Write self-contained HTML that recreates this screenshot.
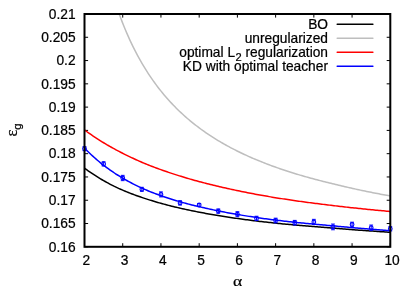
<!DOCTYPE html>
<html><head><meta charset="utf-8"><title>chart</title><style>html,body{margin:0;padding:0;background:#fff;overflow:hidden}svg{will-change:transform}text{stroke:#000;stroke-width:0.22px}</style></head><body>
<svg width="415" height="291" viewBox="0 0 415 291" style="display:block;font-family:'Liberation Sans',sans-serif">
<rect width="415" height="291" fill="#fff"/>
<defs><clipPath id="c"><rect x="84.5" y="14.0" width="305.8" height="232.8"/></clipPath></defs>
<path d="M84.5,246.80h3.6 M390.3,246.80h-3.6 M84.5,223.52h3.6 M390.3,223.52h-3.6 M84.5,200.24h3.6 M390.3,200.24h-3.6 M84.5,176.96h3.6 M390.3,176.96h-3.6 M84.5,153.68h3.6 M390.3,153.68h-3.6 M84.5,130.40h3.6 M390.3,130.40h-3.6 M84.5,107.12h3.6 M390.3,107.12h-3.6 M84.5,83.84h3.6 M390.3,83.84h-3.6 M84.5,60.56h3.6 M390.3,60.56h-3.6 M84.5,37.28h3.6 M390.3,37.28h-3.6 M84.5,14.00h3.6 M390.3,14.00h-3.6 M84.50,246.8v-3.6 M84.50,14.0v3.6 M122.72,246.8v-3.6 M122.72,14.0v3.6 M160.95,246.8v-3.6 M160.95,14.0v3.6 M199.18,246.8v-3.6 M199.18,14.0v3.6 M237.40,246.8v-3.6 M237.40,14.0v3.6 M275.62,246.8v-3.6 M275.62,14.0v3.6 M313.85,246.8v-3.6 M313.85,14.0v3.6 M352.07,246.8v-3.6 M352.07,14.0v3.6 M390.30,246.8v-3.6 M390.30,14.0v3.6" stroke="#000" stroke-width="1" fill="none"/>
<g clip-path="url(#c)">
<path d="M83.50,167.42 L85.05,168.56 L86.59,169.69 L88.14,170.79 L89.69,171.87 L91.23,172.93 L92.78,173.96 L94.33,174.98 L95.87,175.97 L97.42,176.94 L98.97,177.89 L100.51,178.82 L102.06,179.74 L103.61,180.63 L105.15,181.51 L106.70,182.37 L108.25,183.21 L109.79,184.04 L111.34,184.86 L112.89,185.65 L114.43,186.44 L115.98,187.18 L117.53,187.89 L119.07,188.58 L120.62,189.26 L122.17,189.93 L123.72,190.59 L125.26,191.24 L126.81,191.87 L128.36,192.49 L129.90,193.10 L131.45,193.70 L133.00,194.29 L134.54,194.86 L136.09,195.43 L137.64,195.99 L139.18,196.54 L140.73,197.08 L142.28,197.60 L143.82,198.12 L145.37,198.63 L146.92,199.14 L148.46,199.63 L150.01,200.12 L151.56,200.59 L153.10,201.06 L154.65,201.53 L156.20,201.98 L157.74,202.43 L159.29,202.87 L160.84,203.30 L162.38,203.73 L163.93,204.15 L165.48,204.56 L167.02,204.97 L168.57,205.37 L170.12,205.76 L171.66,206.15 L173.21,206.53 L174.76,206.91 L176.30,207.28 L177.85,207.64 L179.40,208.00 L180.94,208.36 L182.49,208.71 L184.04,209.05 L185.58,209.39 L187.13,209.72 L188.68,210.05 L190.22,210.38 L191.77,210.70 L193.32,211.01 L194.86,211.32 L196.41,211.63 L197.96,211.93 L199.51,212.23 L201.05,212.53 L202.60,212.82 L204.15,213.10 L205.69,213.39 L207.24,213.67 L208.79,213.95 L210.33,214.22 L211.88,214.49 L213.43,214.76 L214.97,215.02 L216.52,215.28 L218.07,215.54 L219.61,215.79 L221.16,216.04 L222.71,216.29 L224.25,216.53 L225.80,216.77 L227.35,217.01 L228.89,217.25 L230.44,217.48 L231.99,217.71 L233.53,217.94 L235.08,218.16 L236.63,218.38 L238.17,218.60 L239.72,218.81 L241.27,219.03 L242.81,219.24 L244.36,219.45 L245.91,219.65 L247.45,219.86 L249.00,220.06 L250.55,220.26 L252.09,220.45 L253.64,220.65 L255.19,220.84 L256.73,221.03 L258.28,221.22 L259.83,221.40 L261.37,221.59 L262.92,221.77 L264.47,221.95 L266.01,222.12 L267.56,222.29 L269.11,222.46 L270.65,222.62 L272.20,222.78 L273.75,222.95 L275.29,223.11 L276.84,223.26 L278.39,223.42 L279.94,223.58 L281.48,223.73 L283.03,223.88 L284.58,224.03 L286.12,224.18 L287.67,224.32 L289.22,224.47 L290.76,224.61 L292.31,224.75 L293.86,224.89 L295.40,225.03 L296.95,225.17 L298.50,225.31 L300.04,225.44 L301.59,225.57 L303.14,225.70 L304.68,225.83 L306.23,225.96 L307.78,226.09 L309.32,226.22 L310.87,226.34 L312.42,226.47 L313.96,226.59 L315.51,226.71 L317.06,226.83 L318.60,226.95 L320.15,227.07 L321.70,227.18 L323.24,227.30 L324.79,227.41 L326.34,227.54 L327.88,227.68 L329.43,227.81 L330.98,227.94 L332.52,228.07 L334.07,228.20 L335.62,228.33 L337.16,228.45 L338.71,228.58 L340.26,228.71 L341.80,228.83 L343.35,228.95 L344.90,229.07 L346.44,229.20 L347.99,229.32 L349.54,229.44 L351.08,229.55 L352.63,229.67 L354.18,229.79 L355.73,229.90 L357.27,230.02 L358.82,230.13 L360.37,230.24 L361.91,230.36 L363.46,230.47 L365.01,230.58 L366.55,230.69 L368.10,230.80 L369.65,230.91 L371.19,231.01 L372.74,231.12 L374.29,231.23 L375.83,231.33 L377.38,231.44 L378.93,231.54 L380.47,231.64 L382.02,231.74 L383.57,231.85 L385.11,231.95 L386.66,232.05 L388.21,232.15 L389.75,232.25 L391.30,232.34" fill="none" stroke="#000000" stroke-width="1.5" stroke-linejoin="round"/>
<path d="M83.50,-154.27 L85.05,-142.04 L86.59,-130.55 L88.14,-119.72 L89.69,-109.50 L91.23,-99.84 L92.78,-90.70 L94.33,-82.03 L95.87,-73.80 L97.42,-65.97 L98.97,-58.52 L100.51,-51.41 L102.06,-44.63 L103.61,-38.16 L105.15,-31.96 L106.70,-26.03 L108.25,-20.34 L109.79,-14.89 L111.34,-9.65 L112.89,-4.62 L114.43,0.22 L115.98,4.88 L117.53,9.36 L119.07,13.69 L120.62,17.86 L122.17,21.88 L123.72,25.77 L125.26,29.53 L126.81,33.16 L128.36,36.67 L129.90,40.08 L131.45,43.37 L133.00,46.57 L134.54,49.66 L136.09,52.67 L137.64,55.58 L139.18,58.41 L140.73,61.16 L142.28,63.84 L143.82,66.44 L145.37,68.96 L146.92,71.42 L148.46,73.82 L150.01,76.15 L151.56,78.42 L153.10,80.63 L154.65,82.79 L156.20,84.89 L157.74,86.95 L159.29,88.95 L160.84,90.90 L162.38,92.81 L163.93,94.68 L165.48,96.50 L167.02,98.28 L168.57,100.02 L170.12,101.72 L171.66,103.38 L173.21,105.01 L174.76,106.60 L176.30,108.16 L177.85,109.68 L179.40,111.18 L180.94,112.64 L182.49,114.07 L184.04,115.48 L185.58,116.85 L187.13,118.20 L188.68,119.52 L190.22,120.82 L191.77,122.09 L193.32,123.34 L194.86,124.57 L196.41,125.77 L197.96,126.95 L199.51,128.11 L201.05,129.24 L202.60,130.36 L204.15,131.46 L205.69,132.54 L207.24,133.60 L208.79,134.64 L210.33,135.66 L211.88,136.67 L213.43,137.66 L214.97,138.63 L216.52,139.59 L218.07,140.53 L219.61,141.45 L221.16,142.36 L222.71,143.26 L224.25,144.14 L225.80,145.01 L227.35,145.86 L228.89,146.71 L230.44,147.54 L231.99,148.35 L233.53,149.16 L235.08,149.95 L236.63,150.73 L238.17,151.50 L239.72,152.25 L241.27,153.00 L242.81,153.74 L244.36,154.46 L245.91,155.18 L247.45,155.88 L249.00,156.58 L250.55,157.26 L252.09,157.94 L253.64,158.60 L255.19,159.26 L256.73,159.91 L258.28,160.55 L259.83,161.18 L261.37,161.80 L262.92,162.42 L264.47,163.03 L266.01,163.63 L267.56,164.22 L269.11,164.80 L270.65,165.38 L272.20,165.95 L273.75,166.51 L275.29,167.06 L276.84,167.61 L278.39,168.15 L279.94,168.69 L281.48,169.22 L283.03,169.74 L284.58,170.26 L286.12,170.77 L287.67,171.27 L289.22,171.77 L290.76,172.26 L292.31,172.75 L293.86,173.23 L295.40,173.70 L296.95,174.17 L298.50,174.64 L300.04,175.10 L301.59,175.55 L303.14,176.00 L304.68,176.44 L306.23,176.88 L307.78,177.32 L309.32,177.75 L310.87,178.17 L312.42,178.59 L313.96,179.01 L315.51,179.42 L317.06,179.83 L318.60,180.23 L320.15,180.63 L321.70,181.03 L323.24,181.42 L324.79,181.80 L326.34,182.18 L327.88,182.56 L329.43,182.94 L330.98,183.32 L332.52,183.71 L334.07,184.09 L335.62,184.47 L337.16,184.85 L338.71,185.22 L340.26,185.59 L341.80,185.96 L343.35,186.32 L344.90,186.68 L346.44,187.04 L347.99,187.39 L349.54,187.74 L351.08,188.09 L352.63,188.44 L354.18,188.78 L355.73,189.12 L357.27,189.45 L358.82,189.78 L360.37,190.11 L361.91,190.44 L363.46,190.76 L365.01,191.08 L366.55,191.40 L368.10,191.72 L369.65,192.03 L371.19,192.34 L372.74,192.65 L374.29,192.95 L375.83,193.26 L377.38,193.56 L378.93,193.86 L380.47,194.15 L382.02,194.44 L383.57,194.74 L385.11,195.02 L386.66,195.31 L388.21,195.59 L389.75,195.88 L391.30,196.15" fill="none" stroke="#bebebe" stroke-width="1.5" stroke-linejoin="round"/>
<path d="M83.50,129.30 L85.05,130.40 L86.59,131.51 L88.14,132.59 L89.69,133.67 L91.23,134.73 L92.78,135.77 L94.33,136.81 L95.87,137.83 L97.42,138.84 L98.97,139.83 L100.51,140.81 L102.06,141.78 L103.61,142.74 L105.15,143.68 L106.70,144.62 L108.25,145.51 L109.79,146.39 L111.34,147.26 L112.89,148.11 L114.43,148.95 L115.98,149.79 L117.53,150.61 L119.07,151.42 L120.62,152.22 L122.17,153.01 L123.72,153.80 L125.26,154.57 L126.81,155.33 L128.36,156.09 L129.90,156.83 L131.45,157.56 L133.00,158.29 L134.54,159.01 L136.09,159.72 L137.64,160.42 L139.18,161.11 L140.73,161.79 L142.28,162.47 L143.82,163.13 L145.37,163.79 L146.92,164.41 L148.46,165.02 L150.01,165.62 L151.56,166.22 L153.10,166.81 L154.65,167.39 L156.20,167.97 L157.74,168.53 L159.29,169.10 L160.84,169.65 L162.38,170.20 L163.93,170.75 L165.48,171.29 L167.02,171.82 L168.57,172.35 L170.12,172.87 L171.66,173.38 L173.21,173.89 L174.76,174.39 L176.30,174.89 L177.85,175.38 L179.40,175.86 L180.94,176.34 L182.49,176.81 L184.04,177.28 L185.58,177.74 L187.13,178.20 L188.68,178.65 L190.22,179.10 L191.77,179.54 L193.32,179.97 L194.86,180.41 L196.41,180.83 L197.96,181.25 L199.51,181.67 L201.05,182.08 L202.60,182.49 L204.15,182.89 L205.69,183.29 L207.24,183.68 L208.79,184.07 L210.33,184.46 L211.88,184.84 L213.43,185.22 L214.97,185.59 L216.52,185.96 L218.07,186.33 L219.61,186.69 L221.16,187.05 L222.71,187.40 L224.25,187.75 L225.80,188.10 L227.35,188.44 L228.89,188.78 L230.44,189.11 L231.99,189.44 L233.53,189.78 L235.08,190.11 L236.63,190.44 L238.17,190.77 L239.72,191.09 L241.27,191.41 L242.81,191.73 L244.36,192.04 L245.91,192.35 L247.45,192.65 L249.00,192.96 L250.55,193.26 L252.09,193.55 L253.64,193.85 L255.19,194.14 L256.73,194.42 L258.28,194.71 L259.83,194.99 L261.37,195.27 L262.92,195.55 L264.47,195.82 L266.01,196.09 L267.56,196.35 L269.11,196.62 L270.65,196.88 L272.20,197.14 L273.75,197.39 L275.29,197.65 L276.84,197.90 L278.39,198.14 L279.94,198.39 L281.48,198.63 L283.03,198.87 L284.58,199.11 L286.12,199.35 L287.67,199.58 L289.22,199.81 L290.76,200.04 L292.31,200.27 L293.86,200.49 L295.40,200.71 L296.95,200.93 L298.50,201.15 L300.04,201.37 L301.59,201.58 L303.14,201.79 L304.68,202.00 L306.23,202.21 L307.78,202.42 L309.32,202.62 L310.87,202.82 L312.42,203.02 L313.96,203.22 L315.51,203.41 L317.06,203.61 L318.60,203.80 L320.15,203.99 L321.70,204.18 L323.24,204.37 L324.79,204.55 L326.34,204.74 L327.88,204.94 L329.43,205.13 L330.98,205.31 L332.52,205.50 L334.07,205.69 L335.62,205.87 L337.16,206.05 L338.71,206.24 L340.26,206.41 L341.80,206.59 L343.35,206.77 L344.90,206.94 L346.44,207.12 L347.99,207.29 L349.54,207.46 L351.08,207.63 L352.63,207.79 L354.18,207.96 L355.73,208.12 L357.27,208.29 L358.82,208.45 L360.37,208.61 L361.91,208.77 L363.46,208.93 L365.01,209.08 L366.55,209.24 L368.10,209.39 L369.65,209.54 L371.19,209.69 L372.74,209.84 L374.29,209.99 L375.83,210.14 L377.38,210.29 L378.93,210.43 L380.47,210.57 L382.02,210.72 L383.57,210.86 L385.11,211.00 L386.66,211.14 L388.21,211.27 L389.75,211.41 L391.30,211.55" fill="none" stroke="#ff0000" stroke-width="1.5" stroke-linejoin="round"/>
<path d="M83.50,146.92 L85.05,148.55 L86.59,150.15 L88.14,151.70 L89.69,153.21 L91.23,154.69 L92.78,156.13 L94.33,157.53 L95.87,158.90 L97.42,160.23 L98.97,161.53 L100.51,162.80 L102.06,164.05 L103.61,165.26 L105.15,166.44 L106.70,167.60 L108.25,168.73 L109.79,169.84 L111.34,170.92 L112.89,171.97 L114.43,173.00 L115.98,174.02 L117.53,175.00 L119.07,175.97 L120.62,176.92 L122.17,177.84 L123.72,178.75 L125.26,179.64 L126.81,180.51 L128.36,181.36 L129.90,182.20 L131.45,183.02 L133.00,183.82 L134.54,184.61 L136.09,185.38 L137.64,186.13 L139.18,186.87 L140.73,187.60 L142.28,188.31 L143.82,188.99 L145.37,189.66 L146.92,190.31 L148.46,190.95 L150.01,191.58 L151.56,192.20 L153.10,192.80 L154.65,193.39 L156.20,193.98 L157.74,194.55 L159.29,195.11 L160.84,195.66 L162.38,196.21 L163.93,196.74 L165.48,197.26 L167.02,197.78 L168.57,198.28 L170.12,198.78 L171.66,199.26 L173.21,199.74 L174.76,200.21 L176.30,200.68 L177.85,201.13 L179.40,201.58 L180.94,202.02 L182.49,202.45 L184.04,202.88 L185.58,203.30 L187.13,203.71 L188.68,204.11 L190.22,204.51 L191.77,204.90 L193.32,205.29 L194.86,205.67 L196.41,206.04 L197.96,206.41 L199.51,206.77 L201.05,207.13 L202.60,207.48 L204.15,207.83 L205.69,208.18 L207.24,208.53 L208.79,208.87 L210.33,209.21 L211.88,209.55 L213.43,209.88 L214.97,210.21 L216.52,210.53 L218.07,210.84 L219.61,211.16 L221.16,211.47 L222.71,211.77 L224.25,212.07 L225.80,212.37 L227.35,212.66 L228.89,212.95 L230.44,213.23 L231.99,213.51 L233.53,213.79 L235.08,214.06 L236.63,214.33 L238.17,214.60 L239.72,214.86 L241.27,215.12 L242.81,215.37 L244.36,215.63 L245.91,215.88 L247.45,216.12 L249.00,216.37 L250.55,216.61 L252.09,216.84 L253.64,217.08 L255.19,217.31 L256.73,217.54 L258.28,217.77 L259.83,217.99 L261.37,218.21 L262.92,218.43 L264.47,218.64 L266.01,218.85 L267.56,219.05 L269.11,219.25 L270.65,219.45 L272.20,219.65 L273.75,219.84 L275.29,220.03 L276.84,220.22 L278.39,220.40 L279.94,220.59 L281.48,220.77 L283.03,220.95 L284.58,221.13 L286.12,221.30 L287.67,221.48 L289.22,221.65 L290.76,221.82 L292.31,221.99 L293.86,222.15 L295.40,222.32 L296.95,222.48 L298.50,222.64 L300.04,222.80 L301.59,222.95 L303.14,223.11 L304.68,223.26 L306.23,223.41 L307.78,223.56 L309.32,223.71 L310.87,223.86 L312.42,224.00 L313.96,224.15 L315.51,224.29 L317.06,224.43 L318.60,224.57 L320.15,224.71 L321.70,224.84 L323.24,224.98 L324.79,225.11 L326.34,225.24 L327.88,225.38 L329.43,225.50 L330.98,225.65 L332.52,225.80 L334.07,225.95 L335.62,226.10 L337.16,226.25 L338.71,226.40 L340.26,226.54 L341.80,226.69 L343.35,226.83 L344.90,226.97 L346.44,227.11 L347.99,227.25 L349.54,227.39 L351.08,227.53 L352.63,227.67 L354.18,227.80 L355.73,227.94 L357.27,228.07 L358.82,228.20 L360.37,228.33 L361.91,228.46 L363.46,228.59 L365.01,228.72 L366.55,228.85 L368.10,228.97 L369.65,229.10 L371.19,229.22 L372.74,229.35 L374.29,229.47 L375.83,229.59 L377.38,229.71 L378.93,229.83 L380.47,229.95 L382.02,230.07 L383.57,230.19 L385.11,230.31 L386.66,230.42 L388.21,230.54 L389.75,230.65 L391.30,230.76" fill="none" stroke="#0000ff" stroke-width="1.5" stroke-linejoin="round"/>
</g>
<path d="M84.50,146.70V150.70 M82.60,146.70h3.8 M82.60,150.70h3.8" stroke="#0000ff" stroke-width="1" fill="none"/>
<circle cx="84.50" cy="148.70" r="1.85" stroke="#0000ff" stroke-width="1.1" fill="none"/>
<path d="M103.61,161.75V166.05 M101.71,161.75h3.8 M101.71,166.05h3.8" stroke="#0000ff" stroke-width="1" fill="none"/>
<circle cx="103.61" cy="163.90" r="1.85" stroke="#0000ff" stroke-width="1.1" fill="none"/>
<path d="M122.72,175.35V180.65 M120.82,175.35h3.8 M120.82,180.65h3.8" stroke="#0000ff" stroke-width="1" fill="none"/>
<circle cx="122.72" cy="178.00" r="1.85" stroke="#0000ff" stroke-width="1.1" fill="none"/>
<path d="M141.84,187.30V191.30 M139.94,187.30h3.8 M139.94,191.30h3.8" stroke="#0000ff" stroke-width="1" fill="none"/>
<circle cx="141.84" cy="189.30" r="1.85" stroke="#0000ff" stroke-width="1.1" fill="none"/>
<path d="M160.95,191.90V196.90 M159.05,191.90h3.8 M159.05,196.90h3.8" stroke="#0000ff" stroke-width="1" fill="none"/>
<circle cx="160.95" cy="194.40" r="1.85" stroke="#0000ff" stroke-width="1.1" fill="none"/>
<path d="M180.06,200.75V205.05 M178.16,200.75h3.8 M178.16,205.05h3.8" stroke="#0000ff" stroke-width="1" fill="none"/>
<circle cx="180.06" cy="202.90" r="1.85" stroke="#0000ff" stroke-width="1.1" fill="none"/>
<path d="M199.18,203.60V206.40 M197.28,203.60h3.8 M197.28,206.40h3.8" stroke="#0000ff" stroke-width="1" fill="none"/>
<circle cx="199.18" cy="205.00" r="1.85" stroke="#0000ff" stroke-width="1.1" fill="none"/>
<path d="M218.29,208.95V213.25 M216.39,208.95h3.8 M216.39,213.25h3.8" stroke="#0000ff" stroke-width="1" fill="none"/>
<circle cx="218.29" cy="211.10" r="1.85" stroke="#0000ff" stroke-width="1.1" fill="none"/>
<path d="M237.40,211.70V216.70 M235.50,211.70h3.8 M235.50,216.70h3.8" stroke="#0000ff" stroke-width="1" fill="none"/>
<circle cx="237.40" cy="214.20" r="1.85" stroke="#0000ff" stroke-width="1.1" fill="none"/>
<path d="M256.51,216.25V220.55 M254.61,216.25h3.8 M254.61,220.55h3.8" stroke="#0000ff" stroke-width="1" fill="none"/>
<circle cx="256.51" cy="218.40" r="1.85" stroke="#0000ff" stroke-width="1.1" fill="none"/>
<path d="M275.62,218.20V222.80 M273.73,218.20h3.8 M273.73,222.80h3.8" stroke="#0000ff" stroke-width="1" fill="none"/>
<circle cx="275.62" cy="220.50" r="1.85" stroke="#0000ff" stroke-width="1.1" fill="none"/>
<path d="M294.74,220.40V225.00 M292.84,220.40h3.8 M292.84,225.00h3.8" stroke="#0000ff" stroke-width="1" fill="none"/>
<circle cx="294.74" cy="222.70" r="1.85" stroke="#0000ff" stroke-width="1.1" fill="none"/>
<path d="M313.85,219.35V224.55 M311.95,219.35h3.8 M311.95,224.55h3.8" stroke="#0000ff" stroke-width="1" fill="none"/>
<circle cx="313.85" cy="221.95" r="1.85" stroke="#0000ff" stroke-width="1.1" fill="none"/>
<path d="M332.96,224.05V229.75 M331.06,224.05h3.8 M331.06,229.75h3.8" stroke="#0000ff" stroke-width="1" fill="none"/>
<circle cx="332.96" cy="226.90" r="1.85" stroke="#0000ff" stroke-width="1.1" fill="none"/>
<path d="M352.07,222.20V226.80 M350.18,222.20h3.8 M350.18,226.80h3.8" stroke="#0000ff" stroke-width="1" fill="none"/>
<circle cx="352.07" cy="224.50" r="1.85" stroke="#0000ff" stroke-width="1.1" fill="none"/>
<path d="M371.19,225.05V230.35 M369.29,225.05h3.8 M369.29,230.35h3.8" stroke="#0000ff" stroke-width="1" fill="none"/>
<circle cx="371.19" cy="227.70" r="1.85" stroke="#0000ff" stroke-width="1.1" fill="none"/>
<path d="M390.30,226.65V230.95 M388.40,226.65h3.8 M388.40,230.95h3.8" stroke="#0000ff" stroke-width="1" fill="none"/>
<circle cx="390.30" cy="228.80" r="1.85" stroke="#0000ff" stroke-width="1.1" fill="none"/>
<rect x="84.5" y="14.0" width="305.8" height="232.8" fill="none" stroke="#000" stroke-width="2"/>
<text x="75.6" y="251.50" font-size="13.75" text-anchor="end" fill="#000">0.16</text>
<text x="75.6" y="228.22" font-size="13.75" text-anchor="end" fill="#000">0.165</text>
<text x="75.6" y="204.94" font-size="13.75" text-anchor="end" fill="#000">0.17</text>
<text x="75.6" y="181.66" font-size="13.75" text-anchor="end" fill="#000">0.175</text>
<text x="75.6" y="158.38" font-size="13.75" text-anchor="end" fill="#000">0.18</text>
<text x="75.6" y="135.10" font-size="13.75" text-anchor="end" fill="#000">0.185</text>
<text x="75.6" y="111.82" font-size="13.75" text-anchor="end" fill="#000">0.19</text>
<text x="75.6" y="88.54" font-size="13.75" text-anchor="end" fill="#000">0.195</text>
<text x="75.6" y="65.26" font-size="13.75" text-anchor="end" fill="#000">0.2</text>
<text x="75.6" y="41.98" font-size="13.75" text-anchor="end" fill="#000">0.205</text>
<text x="75.6" y="18.70" font-size="13.75" text-anchor="end" fill="#000">0.21</text>
<text x="86.30" y="265.0" font-size="13.75" text-anchor="middle" fill="#000">2</text>
<text x="124.52" y="265.0" font-size="13.75" text-anchor="middle" fill="#000">3</text>
<text x="162.75" y="265.0" font-size="13.75" text-anchor="middle" fill="#000">4</text>
<text x="200.98" y="265.0" font-size="13.75" text-anchor="middle" fill="#000">5</text>
<text x="239.20" y="265.0" font-size="13.75" text-anchor="middle" fill="#000">6</text>
<text x="277.43" y="265.0" font-size="13.75" text-anchor="middle" fill="#000">7</text>
<text x="315.65" y="265.0" font-size="13.75" text-anchor="middle" fill="#000">8</text>
<text x="353.88" y="265.0" font-size="13.75" text-anchor="middle" fill="#000">9</text>
<text x="392.10" y="265.0" font-size="13.75" text-anchor="middle" fill="#000">10</text>
<text transform="translate(237.6,285.7) scale(1.15,1)" font-size="15.3" text-anchor="middle" fill="#000" font-family="'Liberation Serif',serif">α</text>
<text transform="translate(17,136.6) rotate(-90)" font-size="16.5" text-anchor="start" fill="#000"><tspan font-family="'Liberation Serif',serif">ε</tspan><tspan font-size="11.5" dy="3.5">g</tspan></text>
<text x="328" y="29.35" font-size="13.75" text-anchor="end" fill="#000">BO</text>
<path d="M337.2,24.35H372.9" stroke="#000" stroke-width="1.5" stroke-linecap="round" fill="none"/>
<text x="328" y="43.32" font-size="13.75" text-anchor="end" fill="#000">unregularized</text>
<path d="M337.2,38.32H372.9" stroke="#bebebe" stroke-width="1.5" stroke-linecap="round" fill="none"/>
<text x="328" y="57.29" font-size="13.75" text-anchor="end" fill="#000">optimal L<tspan font-size="11.1" dy="4" dx="0.4">2</tspan><tspan dy="-4"> regularization</tspan></text>
<path d="M337.2,52.29H372.9" stroke="#ff0000" stroke-width="1.5" stroke-linecap="round" fill="none"/>
<text x="328" y="71.26" font-size="13.75" text-anchor="end" fill="#000">KD with optimal teacher</text>
<path d="M337.2,66.26H372.9" stroke="#0000ff" stroke-width="1.5" stroke-linecap="round" fill="none"/>
</svg>
</body></html>
